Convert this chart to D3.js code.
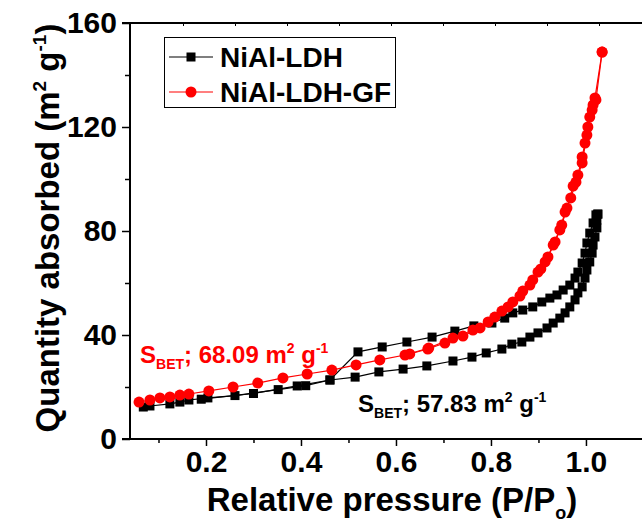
<!DOCTYPE html>
<html><head><meta charset="utf-8">
<script src="https://cdn.jsdelivr.net/npm/d3@7"></script>
<style>body{margin:0;background:#fff}svg{display:block}text{font-family:"Liberation Sans",Arial,sans-serif;font-weight:bold}</style>
</head><body><svg id="c" width="642" height="523"></svg>
<script>
// NiAl-LDH adsorption branch (P/P0, quantity)
const ldhAdsX = [0.068,0.082,0.124,0.145,0.164,0.204,0.261,0.352,0.41,0.461,0.514,0.564,0.615,0.665,0.72,0.76,0.79,0.823,0.844,0.865,0.882,0.899,0.918,0.931,0.945,0.956,0.966,0.977,0.983,0.992,0.998,1.002,1.008,1.013,1.015,1.019,1.023,1.023,1.025];
const ldhAdsY = [12.3,12.7,13.5,14.2,15.0,15.8,16.7,19.0,20.5,22.7,23.8,25.8,26.9,28.1,30.0,31.5,33.1,34.6,36.5,37.3,39.2,40.8,42.7,44.6,46.5,48.5,50.8,53.5,56.2,58.5,61.9,65.0,68.1,71.5,74.6,77.7,81.2,84.2,86.5];
// NiAl-LDH desorption branch
const ldhDesX = [1.025,1.021,1.015,1.008,1.002,0.998,0.992,0.983,0.977,0.966,0.952,0.939,0.924,0.907,0.888,0.867,0.846,0.829,0.802,0.764,0.724,0.676,0.623,0.571,0.52,0.461,0.392,0.30,0.19];
const ldhDesY = [86.5,86.2,83.1,79.2,75.4,71.5,67.7,64.2,61.9,59.2,57.3,55.4,54.2,52.7,50.8,49.6,48.5,46.5,44.6,43.5,41.5,39.2,37.3,35.4,33.5,22.7,20.4,17.5,15.3];
// NiAl-LDH-GF adsorption branch
const gfAdsX = [0.059,0.082,0.103,0.124,0.145,0.164,0.206,0.257,0.309,0.362,0.413,0.465,0.516,0.566,0.619,0.669,0.72,0.762,0.794,0.823,0.846,0.867,0.888,0.905,0.92,0.935,0.945,0.956,0.968,0.979,0.992,1.002,1.008,1.015,1.019,1.034];
const gfAdsY = [14.2,15.0,15.8,16.2,16.9,17.3,18.5,20.0,21.5,23.5,25.0,26.5,28.5,30.4,32.3,35.0,38.8,41.9,45.0,49.2,52.7,56.9,61.2,65.4,70.0,75.8,80.4,87.3,92.7,98.8,106.2,116.9,123.8,128.5,131.2,148.8];
// NiAl-LDH-GF desorption branch
const gfDesX = [1.034,1.021,1.013,1.004,0.998,0.992,0.983,0.973,0.96,0.949,0.931,0.914,0.899,0.882,0.861,0.836,0.808,0.777,0.741,0.703,0.667,0.629];
const gfDesY = [148.8,130.4,126.5,120.0,113.8,108.5,101.5,97.3,88.8,82.3,74.6,68.1,64.2,59.2,55.0,50.8,46.9,42.7,39.6,36.9,34.6,32.7];

const xMajor = [0.2,0.4,0.6,0.8,1.0];
const xMinor = [0.1,0.3,0.5,0.7,0.9];
const yMajor = [0,40,80,120,160];
const yMinor = [20,60,100,140];
const topTicks = [1,2,3,4,5,6,7,8,9];
const seriesNames = ["NiAl-LDH","NiAl-LDH-GF"];

const svg = d3.select("#c");
const L=130, R=642, T=23, B=439;
const x = d3.scaleLinear().domain([0.04,1.118]).range([L,R]);
const y = d3.scaleLinear().domain([0,160]).range([B,T]);
const xTop = d3.scaleLinear().domain([0,10]).range([131,651]);

function styleAxis(g){ g.select(".domain").remove(); g.selectAll("line").attr("stroke","#000").attr("stroke-width",1.5); g.selectAll("text").attr("font-size",30).attr("fill","#000"); }

svg.append("g").attr("transform",`translate(0,${B})`).call(d3.axisBottom(x).tickValues(xMinor).tickSize(4).tickFormat("")).call(styleAxis);
svg.append("g").attr("transform",`translate(0,${B})`).call(d3.axisBottom(x).tickValues(xMajor).tickSize(7).tickPadding(5).tickFormat(d3.format(".1f"))).call(styleAxis);
svg.append("g").attr("transform",`translate(${L},0)`).call(d3.axisLeft(y).tickValues(yMinor).tickSize(5).tickFormat("")).call(styleAxis);
svg.append("g").attr("transform",`translate(${L},0)`).call(d3.axisLeft(y).tickValues(yMajor).tickSize(8).tickPadding(5).tickFormat(d3.format("d"))).call(styleAxis);
svg.append("g").attr("transform",`translate(0,${T})`).call(d3.axisBottom(xTop).tickValues(topTicks).tickSize(3).tickFormat("")).call(g=>{g.select(".domain").remove();g.selectAll("line").attr("stroke","#000").attr("stroke-width",1);});

// axis lines
svg.append("line").attr("x1",L-8).attr("x2",R).attr("y1",B).attr("y2",B).attr("stroke","#000").attr("stroke-width",2);
svg.append("line").attr("x1",L-8).attr("x2",R).attr("y1",T).attr("y2",T).attr("stroke","#000").attr("stroke-width",2);
svg.append("line").attr("x1",L).attr("x2",L).attr("y1",T).attr("y2",B).attr("stroke","#000").attr("stroke-width",2);

const line = d3.line().x(d=>x(d[0])).y(d=>y(d[1]));
const zip=(a,b)=>a.map((v,i)=>[v,b[i]]);
const plot = svg.append("g");
function drawSeries(xs, ys, color, shape){
  const data = zip(xs, ys);
  plot.append("path").datum(data).attr("d",line).attr("fill","none").attr("stroke",color).attr("stroke-width",1.2);
  if(shape==="sq"){
    plot.selectAll(null).data(data).enter().append("rect").attr("x",d=>x(d[0])-4.5).attr("y",d=>y(d[1])-4.5).attr("width",9).attr("height",9).attr("fill",color);
  } else {
    plot.selectAll(null).data(data).enter().append("circle").attr("cx",d=>x(d[0])).attr("cy",d=>y(d[1])).attr("r",5.5).attr("fill",color);
  }
}
drawSeries(ldhAdsX, ldhAdsY, "#000", "sq");
drawSeries(ldhDesX, ldhDesY, "#000", "sq");
drawSeries(gfAdsX, gfAdsY, "#ff0000", "ci");
drawSeries(gfDesX, gfDesY, "#ff0000", "ci");

// legend
const lg = svg.append("g");
lg.append("rect").attr("x",164.5).attr("y",37.5).attr("width",231).attr("height",70).attr("fill","#fff").attr("stroke","#000").attr("stroke-width",1);
const colors=["#000","#ff0000"];
seriesNames.forEach((n,i)=>{
  const cy = 57 + i*35;
  lg.append("line").attr("x1",169).attr("x2",213).attr("y1",cy).attr("y2",cy).attr("stroke",colors[i]).attr("stroke-width",1.2);
  if(i===0) lg.append("rect").attr("x",186.5).attr("y",cy-4.5).attr("width",9).attr("height",9).attr("fill",colors[i]);
  else lg.append("circle").attr("cx",191).attr("cy",cy).attr("r",5.5).attr("fill",colors[i]);
  lg.append("text").attr("x",220).attr("y",cy+10).attr("font-size",28).attr("fill","#000").text(n);
});

// annotations
function sbet(xp, yp, val, color){
  const t = svg.append("text").attr("x",xp).attr("y",yp).attr("font-size",24).attr("fill",color);
  t.append("tspan").text("S");
  t.append("tspan").attr("font-size",14).attr("dy",6).text("BET");
  t.append("tspan").attr("dy",-6).text("; "+val+" m");
  t.append("tspan").attr("font-size",14).attr("dy",-10).text("2");
  t.append("tspan").attr("dy",10).text(" g");
  t.append("tspan").attr("font-size",14).attr("dy",-10).text("-1");
}
sbet(140, 363, "68.09", "#ff0000");
sbet(358, 412, "57.83", "#000");

// axis titles
const xt = svg.append("text").attr("x",392).attr("y",511).attr("text-anchor","middle").attr("font-size",33).attr("fill","#000");
xt.append("tspan").text("Relative pressure (P/P");
xt.append("tspan").attr("font-size",18).attr("dy",8).text("o");
xt.append("tspan").attr("dy",-8).text(")");
const yt = svg.append("text").attr("transform","translate(59,228) rotate(-90)").attr("text-anchor","middle").attr("font-size",33).attr("fill","#000");
yt.append("tspan").text("Quantity absorbed (m");
yt.append("tspan").attr("font-size",19).attr("dy",-13).text("2");
yt.append("tspan").attr("dy",13).text(" g");
yt.append("tspan").attr("font-size",19).attr("dy",-13).text("-1");
yt.append("tspan").attr("dy",13).text(")");
</script></body></html>
